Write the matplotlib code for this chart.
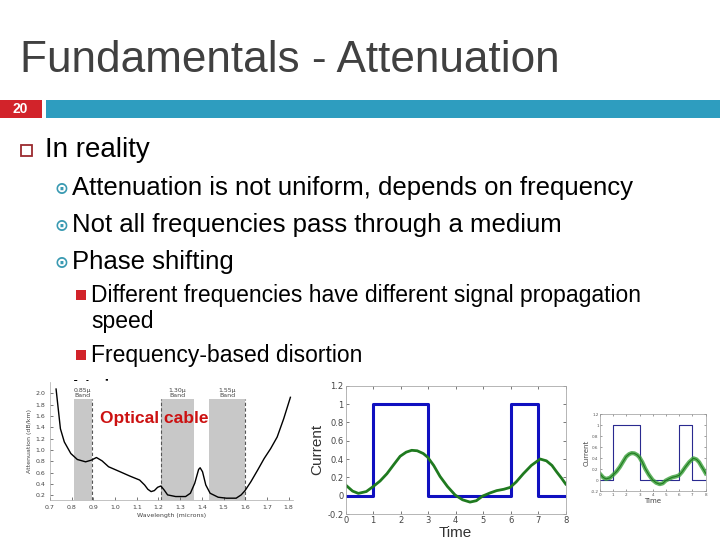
import matplotlib
matplotlib.use("Agg")
import matplotlib.pyplot as plt
from matplotlib.patches import Rectangle

W, H = 720, 540
FONT = "Liberation Sans"

# ---------------- data ----------------
title = "Fundamentals - Attenuation"
slide_no = "20"
level1 = ["In reality"]
level2 = ["Attenuation is not uniform, depends on frequency",
          "Not all frequencies pass through a medium",
          "Phase shifting"]
level3 = ["Different frequencies have different signal propagation",
          "Frequency-based disortion"]
level3_cont = "speed"
level2_hidden = "Noise"

# optical attenuation curve
wavelength = [0.728, 0.748, 0.766, 0.796, 0.826, 0.864, 0.890, 0.914, 0.940, 0.970,
              1.023, 1.068, 1.113, 1.136, 1.151, 1.166, 1.181, 1.196, 1.211, 1.226,
              1.242, 1.279, 1.325, 1.347, 1.367, 1.385, 1.392, 1.403, 1.418, 1.438,
              1.475, 1.513, 1.558, 1.581, 1.599, 1.626, 1.657, 1.687, 1.717, 1.747,
              1.777, 1.808]
attenuation = [2.076, 1.376, 1.143, 0.939, 0.834, 0.793, 0.822, 0.869, 0.810, 0.706,
               0.618, 0.542, 0.472, 0.385, 0.309, 0.268, 0.286, 0.344, 0.367, 0.297,
               0.210, 0.181, 0.181, 0.239, 0.414, 0.659, 0.688, 0.618, 0.385, 0.239,
               0.169, 0.152, 0.152, 0.210, 0.286, 0.443, 0.647, 0.851, 1.026, 1.230,
               1.551, 1.930]
band_start = [0.81, 1.211, 1.435]
band_end = [0.893, 1.365, 1.60]
band_labels = ["0.85\u03bc\nBand", "1.30\u03bc\nBand", "1.55\u03bc\nBand"]
band_dash = [0.893, 1.211, 1.60]
wl_ticks = [0.7, 0.8, 0.9, 1.0, 1.1, 1.2, 1.3, 1.4, 1.5, 1.6, 1.7, 1.8]
att_ticks = [0.2, 0.4, 0.6, 0.8, 1.0, 1.2, 1.4, 1.6, 1.8, 2.0]

# digital signal
sq_time = [0, 1, 1, 3, 3, 6, 6, 7, 7, 8]
sq_current = [0, 0, 1, 1, 0, 0, 1, 1, 0, 0]
rx_time = [0.0, 0.25, 0.46, 0.75, 1.0, 1.25, 1.5, 1.75, 1.98, 2.2, 2.4, 2.6, 2.82,
           2.98, 3.2, 3.43, 3.7, 3.98, 4.25, 4.52, 4.75, 4.98, 5.25, 5.49, 5.75,
           5.98, 6.2, 6.46, 6.75, 7.07, 7.3, 7.5, 7.67, 7.85, 8.0]
rx_current = [0.116, 0.05, 0.025, 0.045, 0.1, 0.16, 0.24, 0.34, 0.43, 0.475, 0.495,
              0.49, 0.46, 0.42, 0.33, 0.21, 0.1, 0.007, -0.045, -0.07, -0.055,
              -0.004, 0.03, 0.055, 0.07, 0.09, 0.15, 0.24, 0.33, 0.40, 0.38, 0.33,
              0.26, 0.19, 0.127]
t_ticks = [0, 1, 2, 3, 4, 5, 6, 7, 8]
c_ticks = [-0.2, 0, 0.2, 0.4, 0.6, 0.8, 1, 1.2]
c_labels = ["-0.2", "0", "0.2", "0.4", "0.6", "0.8", "1", "1.2"]

# ---------------- helpers ----------------
def fx(x):
    return x / W

def fy(y):
    return 1 - y / H

def ax_at(fig, l, t, r, b):
    return fig.add_axes([fx(l), fy(b), (r - l) / W, (b - t) / H])

fig = plt.figure(figsize=(7.2, 5.4), dpi=100)
fig.patch.set_facecolor("white")

# title
fig.text(fx(20), fy(72), title, fontsize=31.8, family=FONT, color="#404040",
         va="baseline", ha="left")

# slide number bar
fig.patches.append(Rectangle((fx(0), fy(118)), fx(42), 18 / H, transform=fig.transFigure,
                             facecolor="#D2232A", edgecolor="none"))
fig.patches.append(Rectangle((fx(46), fy(118)), fx(720 - 46), 18 / H,
                             transform=fig.transFigure, facecolor="#2E9DBF",
                             edgecolor="none"))
fig.text(fx(20), fy(109), slide_no, fontsize=10, family=FONT, color="white",
         fontweight="bold", ha="center", va="center")

# level 1
fig.patches.append(Rectangle((fx(21), fy(156)), 11 / W, 11 / H, transform=fig.transFigure,
                             facecolor="none", edgecolor="#9B2A2E", linewidth=1.3))
fig.text(fx(45), fy(157), level1[0], fontsize=20, family=FONT, color="black",
         va="baseline")

# level 2
l2_base = [195, 232, 269]
for txt, yb in zip(level2, l2_base):
    fig.text(fx(54), fy(yb - 1), "\u2299", fontsize=12, family="DejaVu Sans",
             color="#3A9AB2", va="baseline", fontweight="bold")
    fig.text(fx(72), fy(yb), txt, fontsize=18.5, family=FONT, color="black",
             va="baseline")

# hidden "Noise" line (mostly covered by images)
fig.text(fx(54), fy(397), "\u2299", fontsize=12, family="DejaVu Sans",
         color="#3A9AB2", va="baseline", fontweight="bold", zorder=1)
fig.text(fx(72), fy(398.5), level2_hidden, fontsize=18.5, family=FONT, color="black",
         va="baseline", zorder=1)

# level 3
l3_base = [302, 362]
for txt, yb in zip(level3, l3_base):
    fig.patches.append(Rectangle((fx(76), fy(yb - 2)), 10 / W, 10 / H,
                                 transform=fig.transFigure, facecolor="#D2232A",
                                 edgecolor="none"))
    fig.text(fx(91), fy(yb), txt, fontsize=16.5, family=FONT, color="black",
             va="baseline")
fig.text(fx(91), fy(328), level3_cont, fontsize=16.5, family=FONT, color="black",
         va="baseline")

# white image backgrounds covering text
for (l, t, r, b) in [(28, 381, 300, 535), (300, 372, 590, 540)]:
    fig.patches.append(Rectangle((fx(l), fy(b)), (r - l) / W, (b - t) / H,
                                 transform=fig.transFigure, facecolor="white",
                                 edgecolor="none", zorder=2))

# ---------------- chart 1: optical attenuation ----------------
ax1 = ax_at(fig, 50, 382, 293, 500)
ax1.set_zorder(3)
ax1.set_xlim(0.7, 1.82)
ax1.set_ylim(0.12, 2.2)
for s0, s1 in zip(band_start, band_end):
    ax1.add_patch(Rectangle((s0, 0.12), s1 - s0, 1.9 - 0.12, facecolor="#C8C8C8",
                            edgecolor="none"))
for xd in band_dash:
    ax1.plot([xd, xd], [0.12, 1.9], color="#555555", lw=0.8, ls=(0, (3, 2)))
for s0, s1, lab in zip(band_start, band_end, band_labels):
    ax1.text((s0 + s1) / 2, 1.92, lab, fontsize=4.5, ha="center", va="bottom",
             color="#444444", linespacing=1.0)
ax1.plot(wavelength, attenuation, color="black", lw=1.0)
ax1.set_xticks(wl_ticks)
ax1.set_xticklabels([f"{v:.1f}" for v in wl_ticks])
ax1.set_yticks(att_ticks)
ax1.set_yticklabels([f"{v:.1f}" for v in att_ticks])
ax1.tick_params(labelsize=4.5, colors="#444444", length=2, width=0.5, direction="in")
for side in ["top", "right"]:
    ax1.spines[side].set_visible(False)
for side in ["left", "bottom"]:
    ax1.spines[side].set_color("#AAAAAA")
    ax1.spines[side].set_linewidth(0.5)
ax1.set_xlabel("Wavelength (microns)", fontsize=4.5, color="#444444", labelpad=2)
ax1.set_ylabel("Attenuation (dB/km)", fontsize=4.5, color="#444444", labelpad=2)
ax1.text(1.18, 1.56, "Optical cable", fontsize=12.5, fontweight="bold",
         family=FONT, color="#CC1111", ha="center", va="center")
ax1.patch.set_alpha(0)

# ---------------- chart 2: square wave ----------------
ax2 = ax_at(fig, 345.7, 385.7, 565.7, 514)
ax2.set_zorder(3)
ax2.plot(sq_time, sq_current, color="#1010C0", lw=2.2)
ax2.plot(rx_time, rx_current, color="#1F7A1F", lw=2.0)
ax2.set_xlim(0, 8)
ax2.set_ylim(-0.2, 1.2)
ax2.set_xticks(t_ticks)
ax2.set_yticks(c_ticks)
ax2.set_yticklabels(c_labels)
ax2.tick_params(labelsize=6, colors="#444444", length=2.5, width=0.5,
                direction="in", top=True, right=True, pad=1.5)
for s in ax2.spines.values():
    s.set_color("#AAAAAA")
    s.set_linewidth(0.6)
ax2.set_xlabel("Time", fontsize=11, family=FONT, color="#333333", labelpad=1)
ax2.set_ylabel("Current", fontsize=11, family=FONT, color="#333333", labelpad=2)

# ---------------- chart 3: noisy version ----------------
ax3 = ax_at(fig, 600, 414.3, 705.7, 491.3)
ax3.set_zorder(3)
ax3.plot(sq_time, sq_current, color="#2A2A90", lw=0.8)
ax3.plot(rx_time, rx_current, color="#3AA03A", lw=3.0, alpha=0.8)
ax3.plot(rx_time, rx_current, color="#1F7A1F", lw=0.8)
ax3.set_xlim(0, 8)
ax3.set_ylim(-0.2, 1.2)
ax3.set_xticks(t_ticks)
ax3.set_yticks(c_ticks)
ax3.set_yticklabels(c_labels)
ax3.tick_params(labelsize=3, colors="#555555", length=1.5, width=0.4,
                direction="in", top=True, right=True, pad=1)
for s in ax3.spines.values():
    s.set_color("#999999")
    s.set_linewidth(0.5)
ax3.set_xlabel("Time", fontsize=5, color="#444444", labelpad=1)
ax3.set_ylabel("Current", fontsize=5, color="#444444", labelpad=1)

fig.savefig("out.png", dpi=100, facecolor="white")
